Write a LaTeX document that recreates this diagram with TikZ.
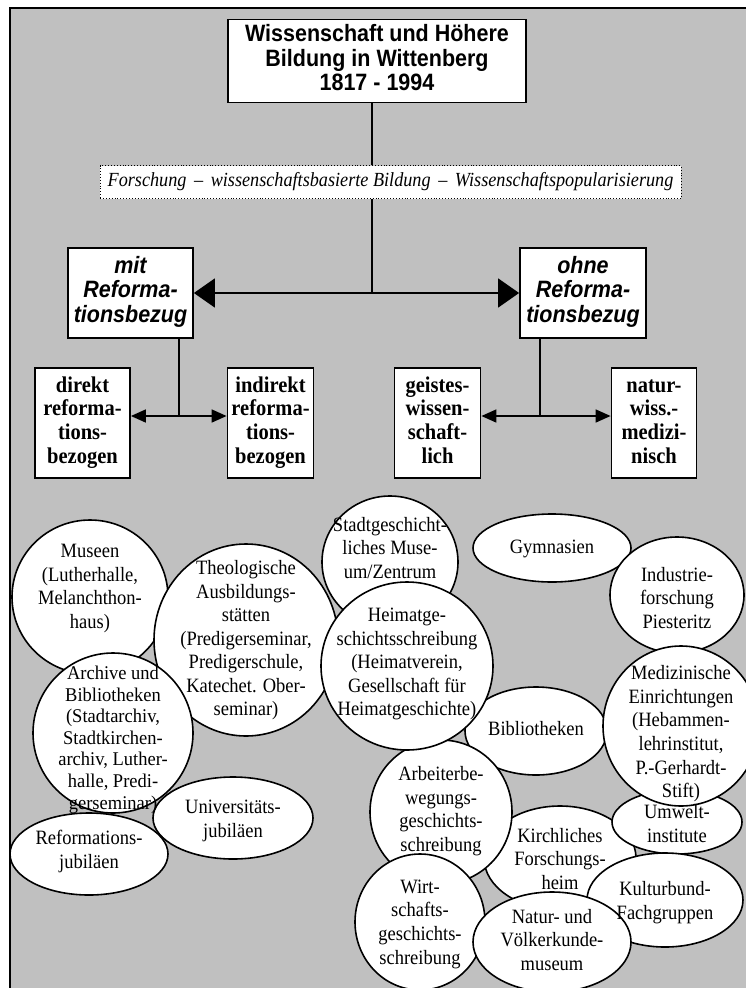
\documentclass[tikz,border=0pt]{standalone}
\usepackage{graphicx}
\usepackage{fontspec}
\setmainfont{Liberation Serif}
\newfontfamily\arialf{Liberation Sans}
\usetikzlibrary{arrows.meta}
\definecolor{bggray}{RGB}{192,192,192}
\newcommand{\tallt}[1]{\scalebox{1}[1.1]{\begin{tabular}{@{}c@{}}#1\end{tabular}}}
\newcommand{\semit}[1]{\scalebox{1}[1.05]{\begin{tabular}{@{}c@{}}#1\end{tabular}}}
\begin{document}
\begin{tikzpicture}[x=1pt,y=-1pt,
  box/.style={draw=black, line width=1.8pt, fill=white, inner sep=0pt, align=center},
  titlebox/.style={box, font=\arialf\bfseries\fontsize{21.5}{21.8}\selectfont},
  mainbox/.style={box, font=\arialf\bfseries\itshape\fontsize{21.5}{22.7}\selectfont},
  subbox/.style={box, font=\bfseries\fontsize{20.5}{21.4}\selectfont},
  dotbox/.style={draw=black, dotted, line width=0.9pt, fill=white, inner sep=0pt, align=center,
     font=\itshape\fontsize{18.2}{20}\selectfont},
  bubble/.style={draw=black, line width=1.6pt, fill=white},
  btext/.style={inner sep=0pt, align=center, font=\fontsize{18.5}{21.4}\selectfont},
  conn/.style={draw=black, line width=1.6pt},
  bigarrow/.style={conn, -{Triangle[length=21pt,width=29pt]}},
  smallarrow/.style={conn, -{Triangle[length=15pt,width=13pt]}}
]
\useasboundingbox (0,0) rectangle (746,988);
\clip (0,0) rectangle (746,988);
\path[fill=bggray, draw=black, line width=1.8pt] (10,8) rectangle (770,1000);

% top part
\node[titlebox, minimum width=298pt, minimum height=83pt] (title) at (377,61)
  {\tallt{Wissenschaft und Höhere\\Bildung in Wittenberg\\1817 - 1994}};
\node[dotbox, minimum width=581pt, minimum height=33pt] (dots) at (390.5,182)
  {\tallt{Forschung \,–\, wissenschaftsbasierte Bildung \,–\, Wissenschaftspopularisierung}};
\node[mainbox, minimum width=125pt, minimum height=90pt] (mit) at (130.5,293)
  {\tallt{mit\\Reforma-\\tionsbezug}};
\node[mainbox, minimum width=126pt, minimum height=90pt] (ohne) at (583,293)
  {\tallt{ohne\\Reforma-\\tionsbezug}};
\node[subbox, minimum width=95pt, minimum height=110pt] (direkt) at (82.5,423)
  {\tallt{direkt\\reforma-\\tions-\\bezogen}};
\node[subbox, minimum width=86pt, minimum height=110pt] (indirekt) at (270.5,423)
  {\tallt{indirekt\\reforma-\\tions-\\bezogen}};
\node[subbox, minimum width=86pt, minimum height=110pt] (geistes) at (437.5,423)
  {\tallt{geistes-\\wissen-\\schaft-\\lich}};
\node[subbox, minimum width=85pt, minimum height=110pt] (natur) at (654,423)
  {\tallt{natur-\\wiss.-\\medizi-\\nisch}};

\coordinate (j1) at (372,293);
\coordinate (j2) at (179,416);
\coordinate (j3) at (540,416);
\draw[conn] (title.south -| j1) -- (dots.north -| j1);
\draw[conn] (dots.south -| j1) -- (j1);
\draw[bigarrow] (j1) -- (mit.east);
\draw[bigarrow] (j1) -- (ohne.west);
\draw[conn] (mit.south -| j2) -- (j2);
\draw[smallarrow] (j2) -- (direkt.east |- j2);
\draw[smallarrow] (j2) -- (indirekt.west |- j2);
\draw[conn] (ohne.south -| j3) -- (j3);
\draw[smallarrow] (j3) -- (geistes.east |- j3);
\draw[smallarrow] (j3) -- (natur.west |- j3);

% bubbles (shapes, back to front)
\path[bubble] (90,597) ellipse [x radius=78pt, y radius=77pt];
\path[bubble] (246,640) ellipse [x radius=92pt, y radius=96pt];
\path[bubble] (113,733) ellipse [x radius=80pt, y radius=80pt];
\path[bubble] (390,562) ellipse [x radius=68pt, y radius=66pt];
\path[bubble] (536,731) ellipse [x radius=71pt, y radius=44pt];
\path[bubble] (560,858) ellipse [x radius=76pt, y radius=52pt];
\path[bubble] (441,812) ellipse [x radius=71pt, y radius=72pt];
\path[bubble] (407,666) ellipse [x radius=86pt, y radius=84pt];
\path[bubble] (420,922) ellipse [x radius=65pt, y radius=68pt];
\path[bubble] (552,548) ellipse [x radius=79pt, y radius=34pt];
\path[bubble] (677,595) ellipse [x radius=67pt, y radius=58pt];
\path[bubble] (677,822) ellipse [x radius=65pt, y radius=32pt];
\path[bubble] (681,726) ellipse [x radius=78pt, y radius=80pt];
\path[bubble] (233,818) ellipse [x radius=80pt, y radius=41pt];
\path[bubble] (89,854) ellipse [x radius=79pt, y radius=41pt];
\path[bubble] (665,900) ellipse [x radius=78pt, y radius=47pt];
\path[bubble] (552,942) ellipse [x radius=79pt, y radius=50pt];

% bubble texts
\node[btext] (museen) at (90,588.5) {\tallt{Museen\\(Lutherhalle,\\Melanchthon-\\haus)}};
\node[btext] (theol) at (246,640.5) {\tallt{Theologische\\Ausbildungs-\\stätten\\(Predigerseminar,\\Predigerschule,\\Katechet. Ober-\\seminar)}};
\node[btext, font=\fontsize{18.5}{20.6}\selectfont] (archive) at (113,740)
  {\semit{Archive und\\Bibliotheken\\(Stadtarchiv,\\Stadtkirchen-\\archiv, Luther-\\halle, Predi-\\gerseminar)}};
\node[btext] (stadt) at (390,550) {\tallt{Stadtgeschicht-\\liches Muse-\\um/Zentrum}};
\node[btext] (heimat) at (407,664) {\tallt{Heimatge-\\schichtsschreibung\\(Heimatverein,\\Gesellschaft für\\Heimatgeschichte)}};
\node[btext] (gymn) at (552,549) {\tallt{Gymnasien}};
\node[btext] (indus) at (677,600) {\tallt{Industrie-\\forschung\\Piesteritz}};
\node[btext] (biblio) at (536,731) {\tallt{Bibliotheken}};
\node[btext] (mediz) at (681,734) {\tallt{Medizinische\\Einrichtungen\\(Hebammen-\\lehrinstitut,\\P.-Gerhardt-\\Stift)}};
\node[btext] (umwelt) at (677,826) {\tallt{Umwelt-\\institute}};
\node[btext] (univ) at (233,821) {\tallt{Universitäts-\\jubiläen}};
\node[btext] (reform) at (89,852) {\tallt{Reformations-\\jubiläen}};
\node[btext] (arbeit) at (441,811.5) {\tallt{Arbeiterbe-\\wegungs-\\geschichts-\\schreibung}};
\node[btext] (kirch) at (560,861) {\tallt{Kirchliches\\Forschungs-\\heim}};
\node[btext] (wirt) at (420,924) {\tallt{Wirt-\\schafts-\\geschichts-\\schreibung}};
\node[btext] (kultur) at (665,903) {\tallt{Kulturbund-\\Fachgruppen}};
\node[btext] (natur2) at (552,942) {\tallt{Natur- und\\Völkerkunde-\\museum}};
\end{tikzpicture}
\end{document}
